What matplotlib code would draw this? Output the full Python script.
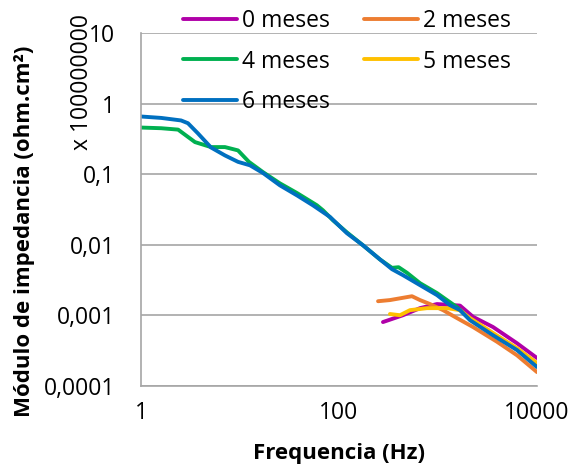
import matplotlib
matplotlib.use("Agg")
import matplotlib.pyplot as plt
from matplotlib.ticker import FixedLocator, NullLocator

plt.rcParams['font.family'] = ['Open Sans', 'DejaVu Sans']

# ---- data ----
labels = ["0 meses", "2 meses", "4 meses", "5 meses", "6 meses"]
colors = ["#B000A8", "#ED7D31", "#00B050", "#FFC000", "#0070C0"]

f0 = [278, 443, 658, 977, 1419, 1668, 2258, 3594, 6285, 10000]
z0 = [0.0008, 0.001, 0.00126, 0.00144, 0.00139, 0.00137, 0.00095, 0.00068, 0.0004, 0.000247]

f2 = [248, 327, 546, 658, 830, 1125, 1556, 2258, 3946, 6285, 10000]
z2 = [0.00158, 0.00164, 0.00186, 0.00164, 0.00144, 0.00118, 0.00091, 0.00068, 0.00042, 0.00027, 0.000156]

f4 = [1, 1.6, 2.37, 2.85, 3.51, 5.09, 7.05, 9.55, 12.3, 17.1, 25.3, 37.6, 59.8, 68.9, 87,
      120, 175, 259, 343, 400, 486, 658, 977, 1556, 2105, 3594, 6285, 10000]
z4 = [0.46, 0.45, 0.43, 0.355, 0.286, 0.243, 0.243, 0.218, 0.15, 0.107, 0.0743, 0.0542, 0.0363, 0.0308, 0.0222,
      0.015, 0.0098, 0.0062, 0.0047, 0.0048, 0.0040, 0.00285, 0.00206, 0.0013, 0.00088, 0.00054, 0.00033, 0.00019]

f5 = [327, 413, 521, 774, 1233, 1668, 2105, 3594, 6285, 10000]
z5 = [0.00104, 0.001, 0.00118, 0.00126, 0.00126, 0.00118, 0.00091, 0.00056, 0.00034, 0.00021]

f6 = [1, 1.6, 2.54, 2.98, 3.76, 5.09, 7.05, 9.55, 12.6, 17.1, 25.3, 37.6, 54.6, 81.1, 120,
      175, 259, 343, 443, 658, 977, 1322, 1668, 2105, 3594, 6285, 10000]
z6 = [0.66, 0.63, 0.58, 0.53, 0.38, 0.24, 0.185, 0.15, 0.134, 0.104, 0.0696, 0.0502, 0.0362, 0.0248, 0.0146,
      0.0098, 0.0062, 0.0045, 0.0037, 0.00267, 0.00193, 0.00139, 0.00118, 0.00085, 0.00052, 0.00032, 0.000184]

xticks = [1, 100, 10000]
xticklabels = ["1", "100", "10000"]
yticks = [0.0001, 0.001, 0.01, 0.1, 1, 10]
yticklabels = ["0,0001", "0,001", "0,01", "0,1", "1", "10"]

series = [(f0, z0), (f2, z2), (f4, z4), (f5, z5), (f6, z6)]

W, H = 574, 476
fig = plt.figure(figsize=(W / 100, H / 100), dpi=100)
ax = fig.add_axes([141 / W, 1 - 385.7 / H, (537 - 141) / W, (385.7 - 33.3) / H])

lines = []
for (fx, zy), c, lab in zip(series, colors, labels):
    ln, = ax.plot(fx, zy, color=c, lw=2.8, label=lab, solid_capstyle='round', solid_joinstyle='round')
    lines.append(ln)

ax.set_xscale('log')
ax.set_yscale('log')
ax.set_xlim(1, 10000)
ax.set_ylim(0.0001, 10)

ax.xaxis.set_major_locator(FixedLocator(xticks))
ax.xaxis.set_minor_locator(NullLocator())
ax.set_xticklabels(xticklabels)
ax.yaxis.set_major_locator(FixedLocator(yticks))
ax.yaxis.set_minor_locator(NullLocator())
ax.set_yticklabels(yticklabels)

ax.tick_params(axis='both', length=0, labelsize=16.5, colors='black')
ax.tick_params(axis='x', pad=11)
ax.tick_params(axis='y', pad=18.5)

ax.grid(axis='y', color='#A6A6A6', lw=1.2)
ax.set_axisbelow(True)
for s in ['top', 'right']:
    ax.spines[s].set_visible(False)
for s in ['left', 'bottom']:
    ax.spines[s].set_color('#A6A6A6')
    ax.spines[s].set_linewidth(1.2)

fig.text(339 / W, 1 - 454 / H, "Frequencia (Hz)", ha='center', va='center',
         fontsize=16, fontweight='bold')
fig.text(25 / W, 1 - 231 / H, "Módulo de impedancia (ohm.cm²)", ha='center', va='center',
         rotation=90, fontsize=16, fontweight='bold')
fig.text(82 / W, 1 - 82 / H, "x 100000000", ha='center', va='center',
         rotation=90, fontsize=16.5)

order = [0, 2, 4, 1, 3]
leg = ax.legend([lines[i] for i in order], [labels[i] for i in order], ncol=2,
                loc='upper left', bbox_to_anchor=(183 / W, 1 - 9 / H),
                bbox_transform=fig.transFigure, frameon=False, fontsize=16.5,
                handlelength=2.35, handletextpad=0.22, columnspacing=1.5,
                labelspacing=0.72, borderpad=0, borderaxespad=0)

fig.savefig("out.png", dpi=100)
